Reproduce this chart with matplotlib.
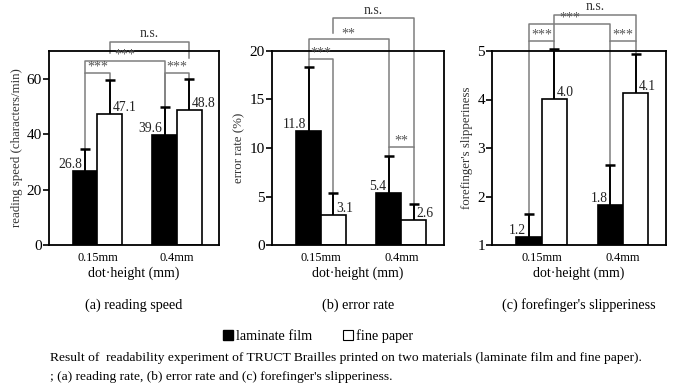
import matplotlib
matplotlib.use("Agg")
import matplotlib.pyplot as plt
from matplotlib.patches import Patch

plt.rcParams['font.family'] = ['Liberation Serif', 'DejaVu Serif']

# ===============================
# Data
# ===============================

groups = ["0.15mm", "0.4mm"]

speed_film = [26.8, 39.6]
speed_paper = [47.1, 48.8]
speed_film_err = [7.8, 10.2]
speed_paper_err = [12.4, 11.2]

error_film = [11.8, 5.4]
error_paper = [3.1, 2.6]
error_film_err = [6.55, 3.8]
error_paper_err = [2.26, 1.6]

slip_film = [1.17, 1.82]
slip_paper = [4.02, 4.13]
slip_film_err = [0.47, 0.82]
slip_paper_err = [1.02, 0.8]

# significance brackets: (bar from, bar to, line height, left leg end, right leg end, label)
# bars are numbered 0 = film 0.15, 1 = paper 0.15, 2 = film 0.4, 3 = paper 0.4
speed_sig = [
    (0, 1, 62.1, 34.6, 59.5, "***"),
    (2, 3, 62.1, 49.8, 60.0, "***"),
    (0, 2, 66.4, 62.1, 49.8, "***"),
    (1, 3, 73.3, 69.3, 67.5, "n.s."),
]
error_sig = [
    (0, 1, 19.2, 18.35, 5.36, "***"),
    (2, 3, 10.1, 9.2, 4.2, "**"),
    (0, 2, 21.2, 19.2, 10.1, "**"),
    (1, 3, 23.4, 21.9, 10.1, "n.s."),
]
slip_sig = [
    (0, 1, 5.21, 1.64, 5.04, "***"),
    (2, 3, 5.21, 2.64, 4.92, "***"),
    (0, 2, 5.56, 5.21, 5.21, "***"),
    (1, 3, 5.75, 5.21, 5.21, "n.s."),
]

# ===============================
# Layout
# ===============================

W, H = 687, 392
fig = plt.figure(figsize=(W / 100, H / 100), dpi=100)


def px_axes(x0, x1, y0=51, y1=245):
    return fig.add_axes([x0 / W, 1 - y1 / H, (x1 - x0) / W, (y1 - y0) / H])


bw = 0.31
pos = [0, 1]


def panel(ax, film, paper, film_err, paper_err, sig, ylim, yticks, ylabel, caption, bottom=0):
    xf = [p - bw / 2 for p in pos]
    xp = [p + bw / 2 for p in pos]
    ax.bar(xf, [v - bottom for v in film], bw, bottom=bottom, color="black",
           edgecolor="black", linewidth=1.2, zorder=2)
    ax.bar(xp, [v - bottom for v in paper], bw, bottom=bottom, color="white",
           edgecolor="black", linewidth=1.2, zorder=2)

    # one-sided error bars (upper only)
    for xs, vals, errs in [(xf, film, film_err), (xp, paper, paper_err)]:
        tops = [v + e for v, e in zip(vals, errs)]
        ax.vlines(xs, vals, tops, color="black", linewidth=1.4, zorder=3)
        ax.plot(xs, tops, linestyle="none", marker="_", markersize=7,
                markeredgewidth=1.8, color="black", zorder=3, clip_on=False)

    for x, v in zip(xf, film):
        ax.annotate(f"{v:.1f}", (x, v), xytext=(-2, 0), textcoords="offset points",
                    ha="right", va="bottom", fontsize=9.8, color="#222222")
    for x, v in zip(xp, paper):
        ax.annotate(f"{v:.1f}", (x, v), xytext=(2, 0), textcoords="offset points",
                    ha="left", va="bottom", fontsize=9.8, color="#222222")

    bx = [xf[0], xp[0], xf[1], xp[1]]
    for i, j, h, e1, e2, lab in sig:
        ax.plot([bx[i], bx[i], bx[j], bx[j]], [e1, h, h, e2], color="#7f7f7f",
                linewidth=1.1, clip_on=False, zorder=1)
        if lab == "n.s.":
            ax.annotate(lab, ((bx[i] + bx[j]) / 2, h), xytext=(0, 1),
                        textcoords="offset points", ha="center", va="bottom",
                        fontsize=10, color="#333333", annotation_clip=False)
        else:
            ax.annotate(lab, ((bx[i] + bx[j]) / 2, h), xytext=(0, -0.5),
                        textcoords="offset points", ha="center", va="bottom",
                        fontsize=10, color="#555555", annotation_clip=False)

    ax.set_xlim(-0.61, 1.53)
    ax.set_ylim(*ylim)
    ax.set_yticks(yticks)
    ax.set_xticks(pos)
    ax.set_xticklabels(groups, fontsize=8.8)
    ax.tick_params(axis="x", length=0, pad=5)
    ax.tick_params(axis="y", direction="out", length=4, width=1.2, labelsize=11, pad=1)
    for s in ax.spines.values():
        s.set_linewidth(1.3)
    ax.set_ylabel(ylabel, fontsize=9.3, color="#333333", labelpad=3)
    ax.set_xlabel("dot·height (mm)", fontsize=10, labelpad=2)
    ax.text(0.5, -0.31, caption, transform=ax.transAxes, ha="center", va="center",
            fontsize=10.2)


ax1 = px_axes(49, 219)
ax2 = px_axes(272, 444)
ax3 = px_axes(492, 666)

panel(ax1, speed_film, speed_paper, speed_film_err, speed_paper_err, speed_sig,
      (0, 70), [0, 20, 40, 60], "reading speed (characters/min)", "(a) reading speed")
panel(ax2, error_film, error_paper, error_film_err, error_paper_err, error_sig,
      (0, 20), [0, 5, 10, 15, 20], "error rate (%)", "(b) error rate")
panel(ax3, slip_film, slip_paper, slip_film_err, slip_paper_err, slip_sig,
      (1, 5), [1, 2, 3, 4, 5], "forefinger's slipperiness", "(c) forefinger's slipperiness",
      bottom=1)

# ===============================
# Legend and caption
# ===============================

handles = [Patch(facecolor="black", edgecolor="black"),
           Patch(facecolor="white", edgecolor="black", linewidth=0.8)]
fig.legend(handles, ["laminate film", "fine paper"], loc="center",
           bbox_to_anchor=(318 / W, 1 - 336 / H), ncol=2, frameon=False,
           handlelength=0.7, handleheight=0.7, handletextpad=0.2,
           columnspacing=2.2, fontsize=10.3)

fig.text(50 / W, 1 - 358 / H,
         "Result of  readability experiment of TRUCT Brailles printed on two materials "
         "(laminate film and fine paper).", fontsize=9.7, va="center", ha="left")
fig.text(50 / W, 1 - 377 / H,
         "; (a) reading rate, (b) error rate and (c) forefinger's slipperiness.",
         fontsize=9.7, va="center", ha="left")

fig.savefig("out.png", dpi=100)
